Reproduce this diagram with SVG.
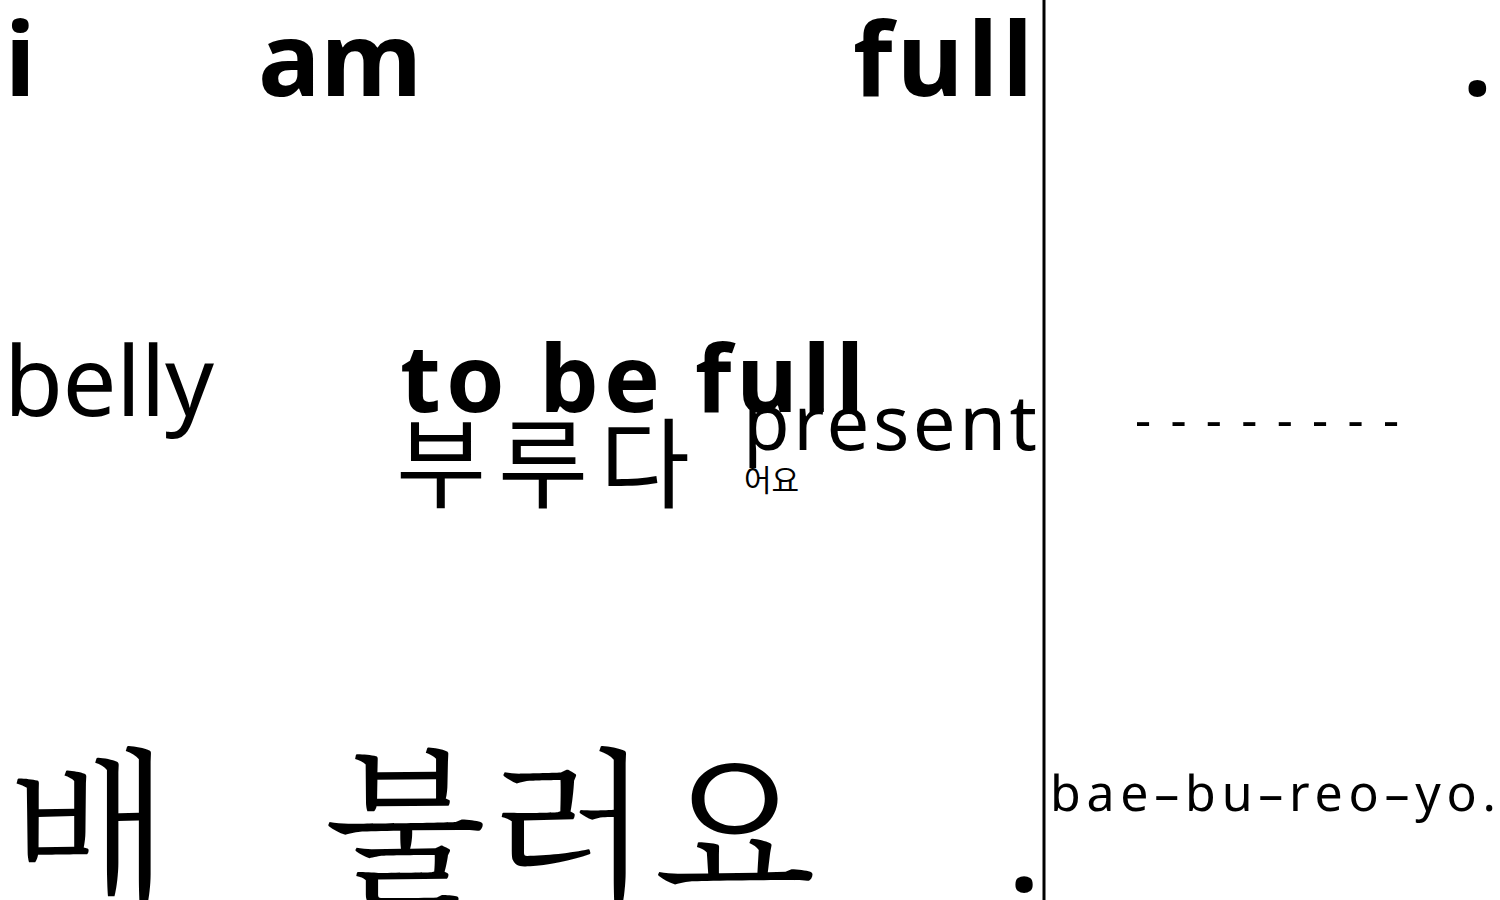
<svg xmlns="http://www.w3.org/2000/svg" width="1500" height="900" viewBox="0 0 1500 900">
<style>
.en{font-family:"Noto Sans","DejaVu Sans",sans-serif;fill:#000}
.b{font-weight:700}
.ko{font-family:"Noto Sans CJK KR",sans-serif;fill:#000}
.kos{font-family:"Noto Serif CJK KR","Noto Sans CJK KR",serif;fill:#000}
</style>
<rect width="1500" height="900" fill="#fff"/>
<line x1="1044" y1="0" x2="1044" y2="900" stroke="#000" stroke-width="3"/>
<g id="top">
<text class="en b" x="5" y="96" font-size="102">i</text>
<text class="en b" x="258" y="96" font-size="102" textLength="164" lengthAdjust="spacingAndGlyphs">am</text>
<text class="en b" x="853" y="96" font-size="102" textLength="180">full</text>
<text class="en b" x="1463" y="96" font-size="102">.</text>
</g>
<g id="middle">
<text class="en" x="4" y="416" font-size="96" textLength="210">belly</text>
<text class="en b" x="400" y="412" font-size="94" textLength="464">to be full</text>
<text class="ko" x="396" y="500" font-size="98" textLength="294">부루다</text>
<text class="en" x="743" y="450" font-size="76" textLength="294">present</text>
<text class="ko" x="744" y="491" font-size="30">어요</text>
<text class="en" x="1135" y="437" font-size="50" textLength="264">--------</text>
</g>
<g id="bottom">
<text class="kos" x="8" y="890" font-size="168">배</text>
<text class="kos" x="324" y="890" font-size="168" textLength="492">불러요</text>
<text class="en b" x="1010" y="892" font-size="100">.</text>
<text class="en" x="1050" y="811" font-size="50" textLength="446">bae–bu–reo–yo.</text>
</g>
</svg>
